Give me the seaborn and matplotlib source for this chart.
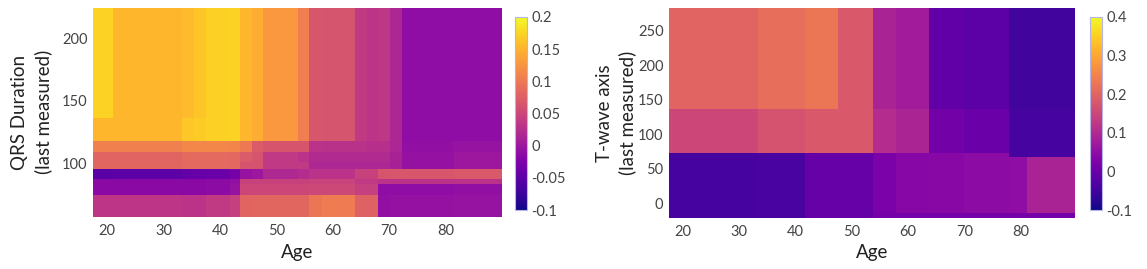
import numpy as np
import matplotlib
matplotlib.use("Agg")
import matplotlib.pyplot as plt
from matplotlib.ticker import FuncFormatter
import seaborn as sns

# --------- DATA (partial dependence values) -------------------------------
# left panel: Age x QRS Duration, cell edges + values (rows bottom -> top)
qrs_age_edges = [17.5, 21, 33.2, 35.4, 37.6, 41.8, 43.5, 45.6, 47.7, 53.9,
                 55.8, 58.1, 64, 66, 68.1, 70.2, 72.2, 81.4, 90]
qrs_edges = [57, 74.6, 83.1, 87.4, 95.1, 101, 109.2, 118, 135.9, 224.7]
qrs_pd = [
    [0.032, 0.032, 0.030, 0.030, 0.036, 0.042, 0.080, 0.082, 0.082, 0.082, 0.098, 0.102, 0.076, 0.076, -0.008, -0.006, -0.006, -0.005],
    [-0.015, -0.015, -0.015, -0.015, -0.013, -0.005, 0.050, 0.050, 0.050, 0.050, 0.052, 0.052, 0.042, 0.042, -0.010, -0.010, -0.010, -0.008],
    [-0.015, -0.015, -0.015, -0.015, -0.013, -0.008, 0.045, 0.045, 0.045, 0.045, 0.047, 0.047, 0.035, 0.035, 0.030, 0.030, 0.030, 0.030],
    [-0.052, -0.050, -0.045, -0.042, -0.040, -0.032, -0.005, 0.000, 0.018, 0.022, 0.030, 0.030, 0.045, 0.045, 0.065, 0.066, 0.066, 0.068],
    [0.082, 0.082, 0.085, 0.085, 0.085, 0.083, 0.065, 0.062, 0.035, 0.035, 0.015, 0.015, 0.015, 0.015, 0.015, 0.010, -0.006, 0.000],
    [0.080, 0.080, 0.085, 0.085, 0.085, 0.083, 0.070, 0.065, 0.035, 0.030, 0.020, 0.020, 0.020, 0.020, 0.020, 0.012, -0.006, 0.000],
    [0.107, 0.107, 0.113, 0.113, 0.113, 0.112, 0.100, 0.072, 0.065, 0.065, 0.030, 0.028, 0.028, 0.026, 0.026, 0.015, -0.008, -0.005],
    [0.153, 0.152, 0.166, 0.168, 0.171, 0.172, 0.152, 0.145, 0.128, 0.104, 0.066, 0.064, 0.036, 0.031, 0.033, 0.015, -0.010, -0.010],
    [0.172, 0.152, 0.156, 0.163, 0.171, 0.172, 0.152, 0.145, 0.128, 0.104, 0.066, 0.064, 0.036, 0.031, 0.033, 0.015, -0.010, -0.010],
]

# right panel: Age x T-wave axis
twave_age_edges = [17.5, 33.3, 41.6, 47.6, 53.7, 57.8, 63.7, 69.9, 78, 81.1, 89.7]
twave_edges = [-21, -14, 67, 73, 137, 284]
twave_pd = [
    [-0.045, -0.040, -0.005, -0.005, 0.015, 0.015, 0.015, 0.015, 0.015, 0.015],
    [-0.045, -0.040, -0.005, -0.005, 0.020, 0.035, 0.040, 0.045, 0.050, 0.088],
    [-0.045, -0.040, -0.005, -0.005, 0.020, 0.035, 0.040, 0.045, -0.045, -0.045],
    [0.150, 0.170, 0.180, 0.180, 0.105, 0.090, 0.010, 0.000, -0.045, -0.045],
    [0.200, 0.215, 0.230, 0.180, 0.088, 0.075, -0.012, -0.018, -0.050, -0.050],
]

age_ticks = [20, 30, 40, 50, 60, 70, 80]
qrs_ticks = [100, 150, 200]
twave_ticks = [0, 50, 100, 150, 200, 250]
qrs_cbar_ticks = [-0.1, -0.05, 0, 0.05, 0.1, 0.15, 0.2]
twave_cbar_ticks = [-0.1, 0, 0.1, 0.2, 0.3, 0.4]

# --------- STYLE ----------
sns.set_theme(style="white")
plt.rcParams['font.family'] = ['Lato', 'DejaVu Sans']
cmap = sns.color_palette("plasma", as_cmap=True)
tick_col = "#444444"


def draw_panel(ax, cax, x_edges, y_edges, values, vmin, vmax,
               ylabel, yticks, cticks, ylab_x):
    mesh = ax.pcolormesh(x_edges, y_edges, np.array(values), cmap=cmap,
                         vmin=vmin, vmax=vmax, shading="flat")
    ax.set_xlim(x_edges[0], x_edges[-1])
    ax.set_ylim(y_edges[0], y_edges[-1])
    ax.set_xticks(age_ticks)
    ax.set_yticks(yticks)
    ax.tick_params(axis="both", length=0, labelsize=10.5, labelcolor=tick_col)
    ax.tick_params(axis="x", pad=5)
    ax.tick_params(axis="y", pad=4)
    for s in ax.spines.values():
        s.set_visible(False)
    ax.set_xlabel("Age", fontsize=13.5, labelpad=4, color="#222222")
    ax.set_ylabel(ylabel, fontsize=13.5, linespacing=1.4, color="#222222")
    ax.yaxis.set_label_coords(ylab_x, 0.5)

    cb = plt.colorbar(mesh, cax=cax, ticks=cticks)
    cb.outline.set_edgecolor("#b7b4e6")
    cb.outline.set_linewidth(0.8)
    cb.ax.tick_params(length=0, labelsize=10.5, labelcolor=tick_col, pad=3)
    cb.ax.yaxis.set_major_formatter(FuncFormatter(lambda v, p: f"{v:g}"))
    return mesh


fig = plt.figure(figsize=(11.47, 2.69), dpi=100)
ax1 = fig.add_axes([0.0811, 0.193, 0.3566, 0.779])
cax1 = fig.add_axes([0.449, 0.219, 0.0105, 0.718])
ax2 = fig.add_axes([0.5833, 0.190, 0.3540, 0.782])
cax2 = fig.add_axes([0.9503, 0.219, 0.0105, 0.718])

draw_panel(ax1, cax1, qrs_age_edges, qrs_edges, qrs_pd, -0.1, 0.2,
           "QRS Duration\n(last measured)", qrs_ticks, qrs_cbar_ticks, -0.1)
draw_panel(ax2, cax2, twave_age_edges, twave_edges, twave_pd, -0.1, 0.4,
           "T-wave axis\n(last measured)", twave_ticks, twave_cbar_ticks, -0.08)

fig.savefig("out.png", dpi=100)
